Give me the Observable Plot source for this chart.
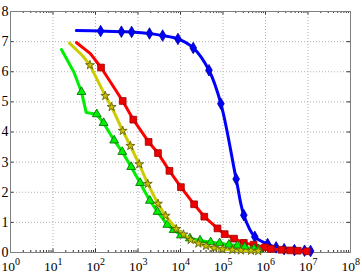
<!DOCTYPE html>
<html><head><meta charset="utf-8">
<script src="https://cdn.jsdelivr.net/npm/d3@7"></script>
<script src="https://cdn.jsdelivr.net/npm/@observablehq/plot@0.6"></script>
<style>body{margin:0;background:#fff} svg{display:block}</style>
</head><body><div id="chart"></div>
<script>
// [x, y, marked]
const blue = [[35.5,7.37,0],[132,7.35,1],[407,7.33,1],[708,7.32,1],[1862,7.27,1],[3802,7.2,1],[8710,7.09,1],[19950,6.79,1],[46770,6.05,1],[89130,4.94,1],[204000,2.44,1],[309000,1.24,1],[560000,0.52,1],[1120000,0.28,1],[1780000,0.17,1],[2750000,0.11,1],[4790000,0.08,1],[8320000,0.06,1],[11500000,0.05,1]];
const red = [[35.5,6.97,0],[75.9,6.6,0],[135,6.14,1],[437,5.03,1],[776,4.41,1],[1778,3.67,1],[2951,3.30,1],[5495,2.71,1],[10230,2.17,1],[20890,1.6,1],[36310,1.19,1],[74130,0.8,1],[109600,0.61,1],[182000,0.46,1],[309000,0.32,1],[525000,0.26,1],[977000,0.17,1],[1350000,0.12,1],[2400000,0.09,1],[3800000,0.07,1],[5750000,0.06,1],[9330000,0.04,1]];
const yellow = [[24.5,6.95,0],[49,6.54,0],[74.1,6.22,1],[170,5.2,1],[240,4.83,1],[437,4.04,1],[661,3.54,1],[1072,2.93,1],[1698,2.28,1],[2951,1.62,1],[4467,1.22,1],[7943,0.78,1],[11750,0.6,1],[17380,0.42,1],[26300,0.3,1],[39810,0.22,1],[61660,0.15,1],[97720,0.11,1],[166000,0.09,1],[263000,0.07,1],[457000,0.06,1],[676000,0.05,1]];
const green = [[15.8,6.74,0],[30.9,5.99,0],[46.8,5.33,1],[60.3,4.65,0],[107,4.59,1],[155,4.3,1],[275,3.72,1],[427,3.34,1],[692,2.84,1],[1122,2.31,1],[1905,1.72,1],[2884,1.35,1],[4898,0.92,1],[6918,0.75,1],[10230,0.57,1],[16600,0.47,1],[28840,0.40,1],[51290,0.34,1],[83180,0.31,1],[138000,0.26,1],[219000,0.23,1],[324000,0.18,1],[537000,0.12,1],[676000,0.1,1]];
const xTickExps = [0,1,2,3,4,5,6,7,8];
const yTicks = [0,1,2,3,4,5,6,7,8];

const W = 362, H = 273, mL = 10, mR = 12, mT = 11, mB = 21;
const plotW = W - mL - mR, plotH = H - mT - mB;
const majorX = xTickExps.map(e => 10 ** e);
const minorX = [];
for (let e = 0; e < 8; e++) for (let k = 2; k <= 9; k++) minorX.push(k * 10 ** e);

const X = d => d[0], Y = d => d[1];
const marked = s => s.filter(d => d[2]);
const tickStyle = {stroke: "#333", strokeWidth: 1};

const chart = Plot.plot({
  width: W, height: H,
  marginLeft: mL, marginRight: mR, marginTop: mT, marginBottom: mB,
  x: {type: "log", domain: [1, 1e8], axis: null},
  y: {domain: [0, 8]},
  style: {fontFamily: "Liberation Serif", background: "white", color: "black"},
  marks: [
    Plot.gridX({ticks: majorX.slice(1, -1), stroke: "#b0b0b0", strokeOpacity: 1, strokeDasharray: "1,2"}),
    Plot.gridY({ticks: yTicks.slice(1, -1), stroke: "#b0b0b0", strokeOpacity: 1, strokeDasharray: "1,2"}),
    Plot.tickX(minorX, {x: d => d, insetTop: plotH - 2, ...tickStyle}),
    Plot.tickX(minorX, {x: d => d, insetBottom: plotH - 2, ...tickStyle}),
    Plot.tickX(majorX, {x: d => d, insetTop: plotH - 3.5, ...tickStyle}),
    Plot.tickX(majorX, {x: d => d, insetBottom: plotH - 3.5, ...tickStyle}),
    Plot.tickY(yTicks, {y: d => d, insetRight: plotW - 3.5, ...tickStyle}),
    Plot.tickY(yTicks, {y: d => d, insetLeft: plotW - 3.5, ...tickStyle}),
    Plot.frame({stroke: "#7f7f7f"}),
    Plot.line(blue, {x: X, y: Y, stroke: "#0000ff", strokeWidth: 3, curve: "catmull-rom"}),
    Plot.dot(marked(blue), {x: X, y: Y, symbol: "diamond", r: 3.5, fill: "#0000ff", stroke: "#000099", strokeWidth: 0.8}),
    Plot.line(red, {x: X, y: Y, stroke: "#ff0000", strokeWidth: 3}),
    Plot.dot(marked(red), {x: X, y: Y, symbol: "square", r: 3.8, fill: "#ee0000", stroke: "#990000", strokeWidth: 0.8}),
    Plot.line(green, {x: X, y: Y, stroke: "#00ee00", strokeWidth: 3}),
    Plot.dot(marked(green), {x: X, y: Y, symbol: "triangle", r: 3.3, fill: "#00ee00", stroke: "#006600", strokeWidth: 0.8}),
    Plot.line(yellow, {x: X, y: Y, stroke: "#cccc00", strokeWidth: 3}),
    Plot.dot(marked(yellow), {x: X, y: Y, symbol: "star", r: 2.8, fill: "#c8c000", stroke: "#555500", strokeWidth: 0.8}),
    Plot.axisY({ticks: yTicks, tickSize: 0, tickPadding: 2, fontSize: 14, tickFormat: d => String(d)}),
    Plot.text(xTickExps, {x: d => 10 ** d, text: () => "10", frameAnchor: "bottom", lineAnchor: "bottom", dy: 18.2, dx: -2.3, fontSize: 13.5, textAnchor: "middle", fill: "black"}),
    Plot.text(xTickExps, {x: d => 10 ** d, text: d => String(d), frameAnchor: "bottom", lineAnchor: "bottom", dy: 12.2, dx: 4.6, fontSize: 10, textAnchor: "start", fill: "black"})
  ]
});
document.getElementById("chart").appendChild(chart);
</script>
</body></html>
